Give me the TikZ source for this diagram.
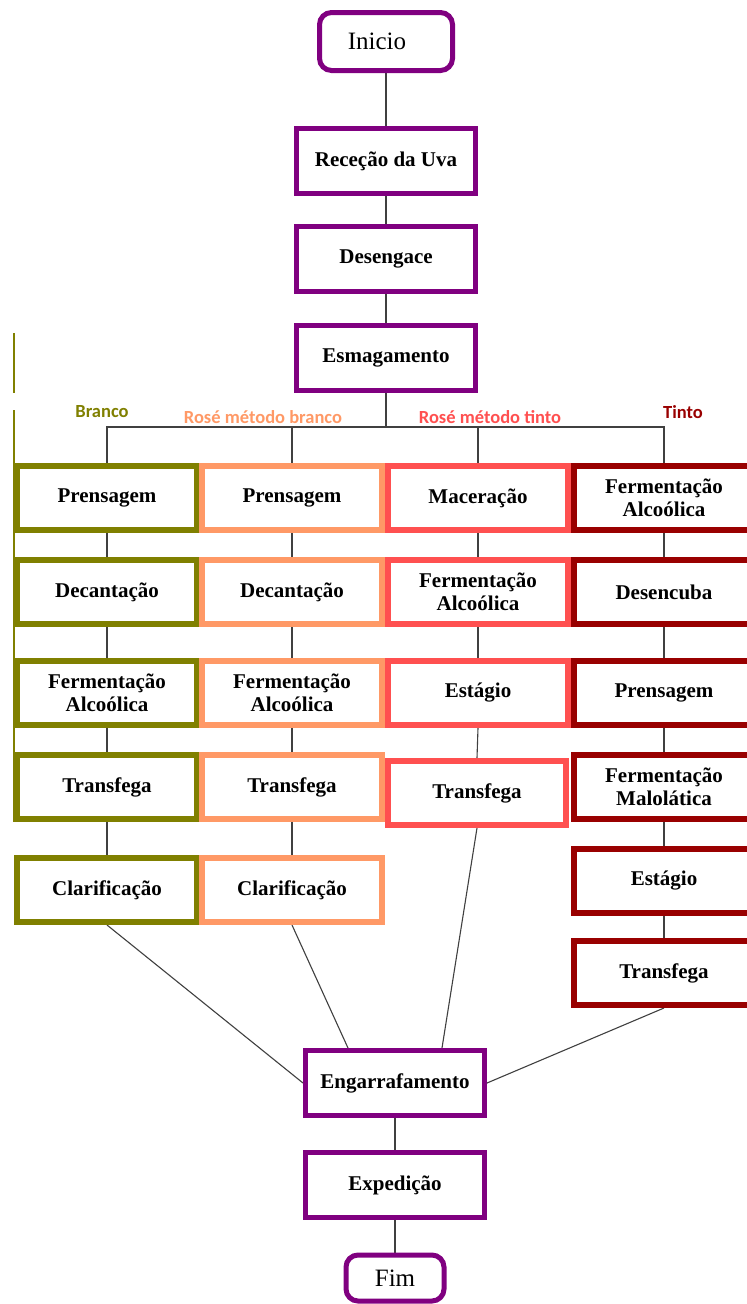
\documentclass[tikz,border=0pt]{standalone}
\usepackage{fontspec}
\setmainfont{Liberation Serif}
\newfontfamily\lblfont{Carlito}
\usetikzlibrary{backgrounds}
\definecolor{purp}{HTML}{800080}
\definecolor{oliv}{HTML}{808000}
\definecolor{salm}{HTML}{FF9966}
\definecolor{rose}{HTML}{FF5050}
\definecolor{dred}{HTML}{990000}
\definecolor{conn}{HTML}{404040}
\begin{document}
\begin{tikzpicture}[x=1pt,y=-1pt,
  every node/.style={inner sep=0pt, align=center},
  txt/.style={font=\bfseries\fontsize{21}{23}\selectfont},
  pbox/.style={txt, draw=purp, fill=white, line width=5pt, minimum width=179pt, minimum height=65pt},
  endbox/.style={draw=purp, fill=white, line width=5pt, rounded corners=12pt, font=\fontsize{25}{28}\selectfont},
  cbox/.style={txt, fill=white, line width=6pt, minimum width=180pt, minimum height=64pt},
  ob/.style={cbox, draw=oliv},
  sb/.style={cbox, draw=salm},
  rb/.style={cbox, draw=rose},
  db/.style={cbox, draw=dred},
  link/.style={draw=conn, line width=1.1pt},
  lbl/.style={font=\lblfont\bfseries\fontsize{18.5}{21}\selectfont}
]
\useasboundingbox (0,0) rectangle (747,1304);

% left artifact line
\draw[oliv, line width=1.5pt] (14,333) -- (14,393);
\draw[oliv, line width=1.5pt] (14,410) -- (14,822);

% main trunk
\node[endbox, minimum width=133pt, minimum height=58pt] (ini) at (386,41.5) {Inicio\hspace{18pt}};
\node[pbox] (rec) at (386,161) {Receção da Uva};
\node[pbox] (des) at (386,259) {Desengace};
\node[pbox] (esm) at (386,358) {Esmagamento};
\coordinate (bar) at (386,427);

% branch labels
\node[lbl, text=oliv] (lb1) at (102,412) {Branco};
\node[lbl, text=salm] (lb2) at (263,417) {Rosé método branco};
\node[lbl, text=rose] (lb3) at (490,417) {Rosé método tinto};
\node[lbl, text=dred] (lb4) at (683,412) {Tinto};

% column A (Branco)
\node[ob] (a1) at (107,498) {Prensagem};
\node[ob] (a2) at (107,592) {Decantação};
\node[ob] (a3) at (107,693) {Fermentação\\Alcoólica};
\node[ob] (a4) at (107,787) {Transfega};
\node[ob] (a5) at (107,890) {Clarificação};

% column B (Rose metodo branco)
\node[sb] (b1) at (292,498) {Prensagem};
\node[sb] (b2) at (292,592) {Decantação};
\node[sb] (b3) at (292,693) {Fermentação\\Alcoólica};
\node[sb] (b4) at (292,787) {Transfega};
\node[sb] (b5) at (292,890) {Clarificação};

% column C (Rose metodo tinto)
\node[rb] (c1) at (478,498) {Maceração};
\node[rb] (c2) at (478,592) {Fermentação\\Alcoólica};
\node[rb] (c3) at (478,693) {Estágio};
\node[rb, minimum width=178pt] (c4) at (477,793) {Transfega};

% column D (Tinto)
\node[db] (d1) at (664,498) {Fermentação\\Alcoólica};
\node[db] (d2) at (664,592) {Desencuba};
\node[db] (d3) at (664,693) {Prensagem};
\node[db] (d4) at (664,787) {Fermentação\\Malolática};
\node[db] (d5) at (664,881) {Estágio};
\node[db] (d6) at (664,973) {Transfega};

% end
\node[pbox] (eng) at (395,1083) {Engarrafamento};
\node[pbox] (exp) at (395,1185) {Expedição};
\node[endbox, minimum width=98pt, minimum height=46pt] (fim) at (395,1278) {Fim};

\begin{scope}[on background layer]
\fill[white] (0,0) rectangle (747,1304);
\draw[link] (ini) -- (rec);
\draw[link] (rec) -- (des);
\draw[link] (des) -- (esm);
\draw[link] (esm.south) -- (bar);
\draw[link] (a1.north) -- (a1.north |- bar) -- (d1.north |- bar) -- (d1.north);
\draw[link] (b1.north) -- (b1.north |- bar);
\draw[link] (c1.north) -- (c1.north |- bar);
\draw[link] (a1) -- (a2); \draw[link] (a2) -- (a3); \draw[link] (a3) -- (a4); \draw[link] (a4) -- (a5);
\draw[link] (b1) -- (b2); \draw[link] (b2) -- (b3); \draw[link] (b3) -- (b4); \draw[link] (b4) -- (b5);
\draw[link] (c1) -- (c2); \draw[link] (c2) -- (c3); \draw[link] (c3.south) -- (c4.north);
\draw[link] (d1) -- (d2); \draw[link] (d2) -- (d3); \draw[link] (d3) -- (d4); \draw[link] (d4) -- (d5); \draw[link] (d5) -- (d6);
\draw[link] (a5.south) -- (eng.west);
\draw[link] (b5.south) -- ([xshift=-47pt]eng.north);
\draw[link] (c4.south) -- ([xshift=47pt]eng.north);
\draw[link] (d6.south) -- (eng.east);
\draw[link] (eng) -- (exp);
\draw[link] (exp) -- (fim);
\end{scope}
\end{tikzpicture}
\end{document}
